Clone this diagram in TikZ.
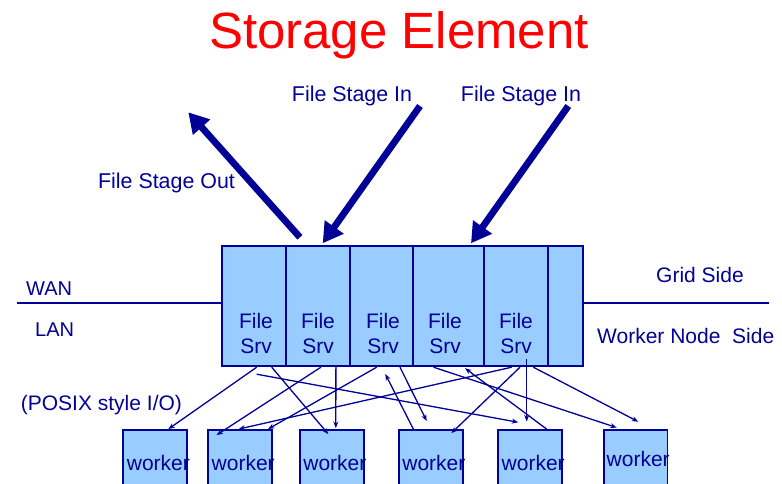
\documentclass[tikz,border=0pt]{standalone}
\usepackage{fontspec}
\setmainfont{Liberation Sans}
\usetikzlibrary{arrows.meta,calc}
\definecolor{navy}{RGB}{0,0,150}
\definecolor{lightblue}{RGB}{153,204,255}
\definecolor{titlered}{RGB}{255,0,0}
\tikzset{
  srvbox/.style={draw=navy,fill=lightblue,line width=1.8pt,inner sep=0pt,minimum height=120.6pt},
  wbox/.style={draw=navy,fill=lightblue,line width=1.8pt,inner sep=0pt,minimum height=90pt},
  lbl/.style={text=navy,inner sep=0pt,font=\fontsize{21}{25}\selectfont},
  conn/.style={draw=navy,line width=1.3pt,-{Stealth[length=6.5pt,width=5pt]}},
  bigarrow/.style={draw=navy,line width=6.8pt,-{Triangle[length=20pt,width=22pt]}},
  netline/.style={draw=navy,line width=2pt}
}
\begin{document}
\begin{tikzpicture}[x=1pt,y=-1pt]
\useasboundingbox (0,0) rectangle (782,484);
\clip (0,0) rectangle (782,484);
% title
\node[text=titlered,inner sep=0pt,anchor=base,font=\fontsize{51}{60}\selectfont] (title) at (399,49) {Storage Element};
% server columns
\node[srvbox,minimum width=63.7pt] (s1) at (254.2,306) {};
\node[srvbox,minimum width=63.7pt] (s2) at (317.9,306) {};
\node[srvbox,minimum width=63.6pt] (s3) at (381.5,306) {};
\node[srvbox,minimum width=70.7pt] (s4) at (448.7,306) {};
\node[srvbox,minimum width=63.7pt] (s5) at (515.9,306) {};
\node[srvbox,minimum width=35pt] (s6) at (565.2,306) {};
% server texts
\foreach \i/\x in {1/256,2/318,3/383,4/445,5/516}{
  \node[lbl,anchor=base] (f\i) at (\x,328.3) {File};
  \node[lbl,anchor=base] (r\i) at (\x,353.7) {Srv};
}
% workers
\node[wbox,minimum width=64pt] (w1) at (155.3,475) {};
\node[wbox,minimum width=63.4pt] (w2) at (240,475) {};
\node[wbox,minimum width=64pt] (w3) at (332,475) {};
\node[wbox,minimum width=63.7pt] (w4) at (430.85,475) {};
\node[wbox,minimum width=63.7pt] (w5) at (530.15,475) {};
\node[wbox,minimum width=63.5pt] (w6) at (635.75,475) {};
\node[lbl,anchor=base west] (wt1) at (126.7,470) {worker};
\node[lbl,anchor=base west] (wt2) at (211.5,470) {worker};
\node[lbl,anchor=base west] (wt3) at (303.2,470) {worker};
\node[lbl,anchor=base west] (wt4) at (402.2,470) {worker};
\node[lbl,anchor=base west] (wt5) at (501.5,470) {worker};
\node[lbl,anchor=base west] (wt6) at (606.5,466) {worker};
% network lines
\coordinate (wan) at (17.3,302.7);
\coordinate (grid) at (768.8,302.7);
\draw[netline] (wan) -- (wan -| s1.west);
\draw[netline] (s6.east |- grid) -- (grid);
% side labels
\node[lbl,anchor=base west,font=\fontsize{20}{24}\selectfont] (wanl) at (26,295) {WAN};
\node[lbl,anchor=base west,font=\fontsize{20}{24}\selectfont] (lanl) at (35,336) {LAN};
\node[lbl,anchor=base] (gridl) at (700,282) {Grid Side};
\node[lbl,anchor=base] (wnl) at (685.7,343.6) {Worker Node\ \ Side};
\node[lbl,anchor=base west,font=\fontsize{21}{25}\selectfont] (posix) at (20.7,410.7) {(POSIX style I/O)};
% stage labels
\node[lbl,anchor=base,font=\fontsize{21.4}{25}\selectfont] (in1) at (352,101.7) {File Stage In};
\node[lbl,anchor=base,font=\fontsize{21.4}{25}\selectfont] (in2) at (521,101.7) {File Stage In};
\node[lbl,anchor=base,font=\fontsize{21.4}{25}\selectfont] (out) at (166.5,188.5) {File Stage Out};
% big arrows
\coordinate (outtip) at (188.3,112.3);
\coordinate (in1tail) at (420,106);
\coordinate (in2tail) at (568.3,106);
\draw[bigarrow] ([xshift=-18pt,yshift=7.5pt]s2.north) -- (outtip);
\draw[bigarrow] (in1tail) -- ([xshift=4.8pt,yshift=1.5pt]s2.north);
\draw[bigarrow] (in2tail) -- ([xshift=22.3pt,yshift=1.5pt]s4.north);
% free connector ends
\coordinate (c2) at (518.3,422.3);
\coordinate (c8) at (385.3,374);
\coordinate (c9) at (426.7,421);
\coordinate (c13) at (526.7,421.5);
\coordinate (c14) at (638.3,421.7);
% connectors
\draw[conn] ([xshift=2.5pt]s1.south) -- ([xshift=13pt]w1.north);
\draw[conn] ([xshift=2.5pt,yshift=-7pt]s1.south) -- (c2);
\draw[conn] ([xshift=17.5pt]s1.south) -- ([xshift=-3.7pt,yshift=-5pt]w3.north);
\draw[conn] ([xshift=3pt]s2.south) -- ([xshift=-23.5pt,yshift=-6pt]w2.north);
\draw[conn] ([xshift=18pt]s2.south) -- ([xshift=3.8pt,yshift=1pt]w3.north);
\draw[conn] ([xshift=-4.8pt]s3.south) -- ([xshift=28pt]w2.north);
\draw[conn] ([xshift=-4.2pt]s5.south) -- ([xshift=-1.5pt]w2.north);
\draw[conn] ([xshift=-17.5pt]w4.north) -- (c8);
\draw[conn] ([xshift=18.5pt]s3.south) -- (c9);
\draw[conn] ([xshift=-15.2pt]s4.south) -- ([xshift=-19pt,yshift=1.5pt]w6.north);
\draw[conn] ([xshift=16.5pt]w5.north) -- ([xshift=16.3pt,yshift=-1pt]s4.south);
\draw[conn] ([xshift=4.1pt]s5.south) -- ([xshift=20.6pt,yshift=-4pt]w4.north);
\draw[conn] ([xshift=10.8pt,yshift=8pt]s5.south) -- (c13);
\draw[conn] ([xshift=17.4pt]s5.south) -- (c14);
\end{tikzpicture}
\end{document}
